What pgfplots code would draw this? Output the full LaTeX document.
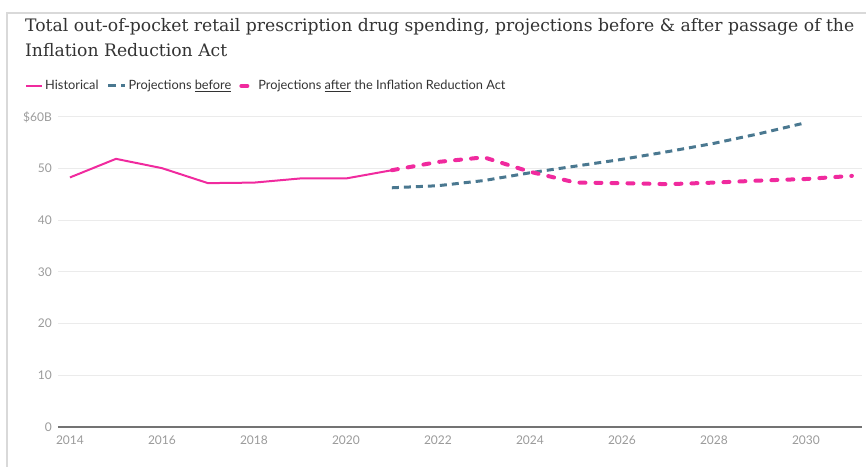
\documentclass[border=0pt]{standalone}
\usepackage{pgfplots}
\pgfplotsset{compat=1.18}
\usepackage{fontspec}
\setmainfont{Lato}
\newfontfamily\titlefont{DejaVu Serif}
\definecolor{pinkc}{HTML}{F02A9E}
\definecolor{bluec}{HTML}{4A7890}
\definecolor{gridc}{HTML}{EBEBEB}
\definecolor{tickc}{HTML}{9A9A9A}
\definecolor{txtc}{HTML}{333333}
\definecolor{framec}{HTML}{D9D9D9}
\begin{document}
\begin{tikzpicture}
\path[use as bounding box] (0,0) rectangle (866bp,467bp);
\draw[framec, line width=2bp] (7bp,0) -- (7bp,454bp) -- (866bp,454bp);
\node[anchor=base west, inner sep=0pt, text=txtc, font=\titlefont\fontsize{17.2bp}{23bp}\selectfont] at (25bp,435bp) {Total out-of-pocket retail prescription drug spending, projections before \& after passage of the};
\node[anchor=base west, inner sep=0pt, text=txtc, font=\titlefont\fontsize{17.2bp}{23bp}\selectfont] at (25bp,410bp) {Inflation Reduction Act};
\begin{axis}[
  at={(58bp,40bp)}, anchor=south west,
  scale only axis, width=804bp, height=310bp,
  xmin=2013.74, xmax=2031.22, ymin=0, ymax=60,
  xtick={2014,2016,...,2030},
  ytick={10,20,30,40,50,60},
  yticklabels={10,20,30,40,50,\$60B},
  extra y ticks={0},
  extra y tick labels={0},
  extra y tick style={grid style={draw=black!55, line width=1.3bp}},
  ymajorgrids, grid style={draw=gridc, line width=1bp},
  axis line style={draw=none},
  major tick length=0pt,
  /pgf/number format/assume math mode=true,
  /pgf/number format/1000 sep={},
  tick label style={font=\fontsize{12bp}{14bp}\selectfont, text=tickc},
  yticklabel style={inner sep=0pt, xshift=-6bp},
  xticklabel style={inner sep=0pt, yshift=-9bp},
  clip=false,
  legend style={at={(axis description cs:-0.041,1.10)}, anchor=west, draw=none, fill=none,
    font=\fontsize{12.8bp}{14bp}\selectfont, text=txtc, inner sep=0pt,
    /tikz/every even column/.append style={column sep=6bp}},
  legend columns=3, legend cell align=left,
]
\addplot[pinkc, line width=2bp, line join=round,
  legend image code/.code={\draw[pinkc, line width=2bp, solid] (0bp,0bp) -- (16bp,0bp);}]
  coordinates {(2014,48.3) (2015,51.9) (2016,50.1) (2017,47.2) (2018,47.3) (2019,48.1) (2020,48.1) (2021,49.7)};
\addlegendentry{Historical}
\addplot[bluec, line width=3bp, dash pattern=on 7bp off 5bp,
  legend image code/.code={\draw[bluec, line width=3bp, dash pattern=on 8bp off 5bp] (0bp,0bp) -- (17bp,0bp);}]
  coordinates {(2021,46.3) (2022,46.7) (2023,47.7) (2024,49.2) (2025,50.5) (2026,51.8) (2027,53.3) (2028,54.9) (2029,56.8) (2030,58.9)};
\addlegendentry{Projections \underline{before}}
\addplot[pinkc, line width=4bp, line cap=round, dash pattern=on 6bp off 10bp,
  legend image code/.code={\draw[pinkc, line width=4bp, line cap=round, solid] (2bp,0bp) -- (8bp,0bp); \path[draw=none] (0bp,0bp) -- (17bp,0bp);}]
  coordinates {(2021,49.7) (2022,51.3) (2023,52.2) (2024,49.4) (2025,47.3) (2026,47.2) (2027,47.0) (2028,47.3) (2029,47.7) (2030,48.0) (2031,48.6)};
\addlegendentry{Projections \underline{after} the Inflation Reduction Act}
\end{axis}
\end{tikzpicture}
\end{document}
